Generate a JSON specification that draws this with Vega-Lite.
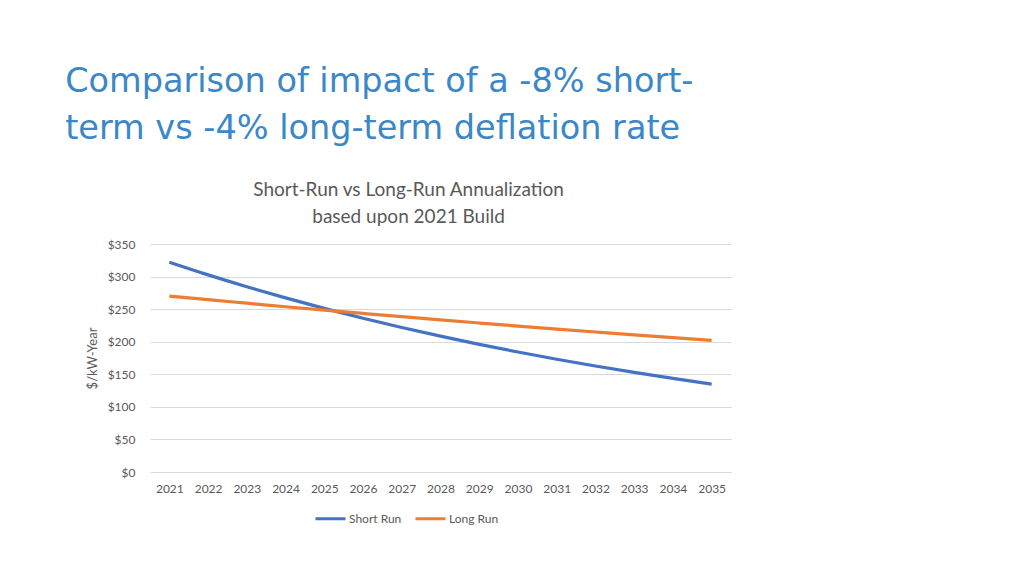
{
  "$schema": "https://vega.github.io/schema/vega-lite/v6.json",
  "background": "white",
  "padding": {"left": 65, "top": 64, "right": 10, "bottom": 10},
  "title": {
    "text": ["Comparison of impact of a -8% short-", "term vs -4% long-term deflation rate"],
    "anchor": "start",
    "frame": "bounds",
    "dx": -21,
    "font": "DejaVu Sans",
    "fontSize": 33.5,
    "fontWeight": "normal",
    "color": "#3B87C7",
    "lineHeight": 47,
    "offset": 35
  },
  "datasets": {
    "costs": [
      {"year": "2021", "series": "Short Run", "value": 322},
      {"year": "2022", "series": "Short Run", "value": 302.6},
      {"year": "2023", "series": "Short Run", "value": 284.4},
      {"year": "2024", "series": "Short Run", "value": 267.3},
      {"year": "2025", "series": "Short Run", "value": 251.2},
      {"year": "2026", "series": "Short Run", "value": 236.1},
      {"year": "2027", "series": "Short Run", "value": 221.9},
      {"year": "2028", "series": "Short Run", "value": 208.5},
      {"year": "2029", "series": "Short Run", "value": 196.0},
      {"year": "2030", "series": "Short Run", "value": 184.2},
      {"year": "2031", "series": "Short Run", "value": 173.1},
      {"year": "2032", "series": "Short Run", "value": 162.7},
      {"year": "2033", "series": "Short Run", "value": 152.9},
      {"year": "2034", "series": "Short Run", "value": 143.7},
      {"year": "2035", "series": "Short Run", "value": 135.0},
      {"year": "2021", "series": "Long Run", "value": 270},
      {"year": "2022", "series": "Long Run", "value": 264.5},
      {"year": "2023", "series": "Long Run", "value": 259.1},
      {"year": "2024", "series": "Long Run", "value": 253.7},
      {"year": "2025", "series": "Long Run", "value": 248.5},
      {"year": "2026", "series": "Long Run", "value": 243.4},
      {"year": "2027", "series": "Long Run", "value": 238.4},
      {"year": "2028", "series": "Long Run", "value": 233.5},
      {"year": "2029", "series": "Long Run", "value": 228.7},
      {"year": "2030", "series": "Long Run", "value": 224.0},
      {"year": "2031", "series": "Long Run", "value": 219.4},
      {"year": "2032", "series": "Long Run", "value": 214.9},
      {"year": "2033", "series": "Long Run", "value": 210.5},
      {"year": "2034", "series": "Long Run", "value": 206.2},
      {"year": "2035", "series": "Long Run", "value": 202.0}
    ]
  },
  "vconcat": [
    {
      "title": {
        "text": ["Short-Run vs Long-Run Annualization", "based upon 2021 Build"],
        "anchor": "middle",
        "frame": "bounds",
        "font": "Lato",
        "fontSize": 19,
        "fontWeight": "normal",
        "color": "#595959",
        "lineHeight": 27,
        "offset": 11
      },
      "width": 581,
      "height": 228,
      "data": {"name": "costs"},
      "mark": {"type": "line", "strokeWidth": 3.2, "interpolate": "monotone"},
      "encoding": {
        "x": {
          "field": "year",
          "type": "ordinal",
          "scale": {"type": "point", "padding": 0.5},
          "axis": {
            "title": null,
            "labelAngle": 0,
            "domain": false,
            "ticks": false,
            "labelPadding": 11,
            "labelFont": "Lato",
            "labelFontSize": 12,
            "labelColor": "#595959"
          }
        },
        "y": {
          "field": "value",
          "type": "quantitative",
          "scale": {"domain": [0, 350], "nice": false},
          "axis": {
            "title": "$/kW-Year",
            "titleFont": "Lato",
            "titleFontSize": 13,
            "titleFontWeight": "normal",
            "titleColor": "#595959",
            "titlePadding": 8,
            "values": [0, 50, 100, 150, 200, 250, 300, 350],
            "format": "$.0f",
            "domain": false,
            "ticks": false,
            "labelPadding": 15,
            "labelFont": "Lato",
            "labelFontSize": 12,
            "labelColor": "#595959",
            "grid": true,
            "gridColor": "#D9D9D9",
            "gridWidth": 1
          }
        },
        "color": {
          "field": "series",
          "type": "nominal",
          "scale": {"domain": ["Short Run", "Long Run"], "range": ["#4472C4", "#ED7D31"]},
          "legend": {
            "title": null,
            "orient": "none",
            "direction": "horizontal",
            "legendX": 164,
            "legendY": 258,
            "symbolType": "stroke",
            "symbolSize": 900,
            "symbolStrokeWidth": 3,
            "labelFont": "Lato",
            "labelFontSize": 12,
            "labelColor": "#595959",
            "labelOffset": 2,
            "columnPadding": 7
          }
        }
      }
    }
  ],
  "config": {
    "view": {"stroke": null}
  }
}
